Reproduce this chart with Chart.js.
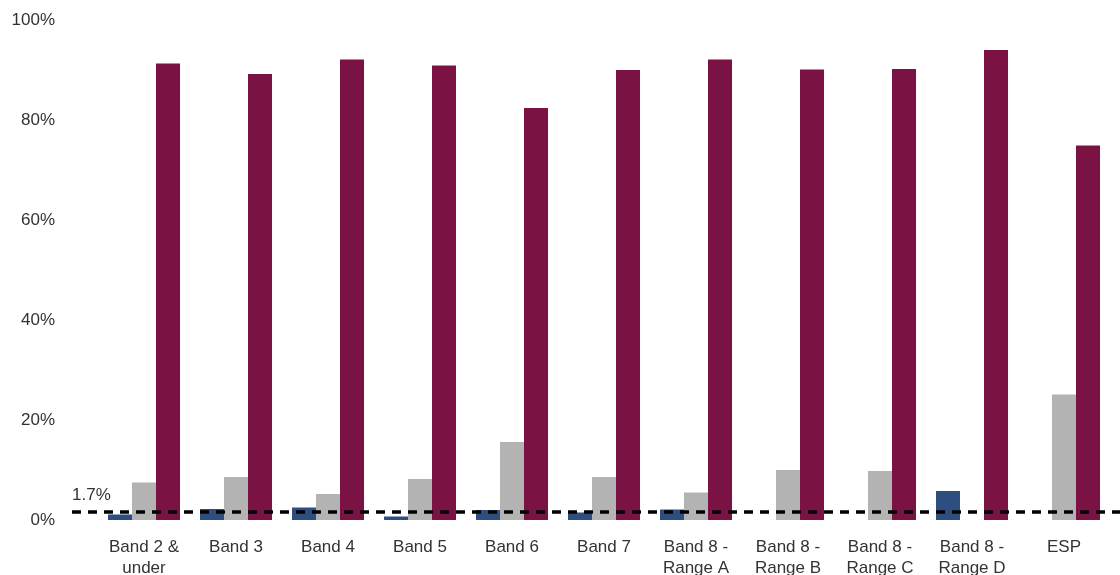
<!DOCTYPE html>
<html>
<head>
<meta charset="utf-8">
<script src="https://cdn.jsdelivr.net/npm/chart.js@4/dist/chart.umd.min.js"></script>
<style>
  html, body { margin: 0; padding: 0; background: #ffffff; }
  #wrap { width: 1120px; height: 575px; position: relative; }
</style>
</head>
<body>
<div id="wrap"><canvas id="chart" width="1120" height="575"></canvas></div>
<script>
// Pay bands along the horizontal axis
const categories = [
  ['Band 2 &', 'under'], 'Band 3', 'Band 4', 'Band 5', 'Band 6', 'Band 7',
  ['Band 8 -', 'Range A'], ['Band 8 -', 'Range B'], ['Band 8 -', 'Range C'],
  ['Band 8 -', 'Range D'], 'ESP'
];

// Percentages per band, three series
const seriesBlue   = [1.1, 2.2, 2.5, 0.7, 2.0, 1.5, 2.1, 0, 0, 5.8, 0];
const seriesGrey   = [7.5, 8.6, 5.2, 8.2, 15.6, 8.6, 5.5, 10.0, 9.8, 0, 25.1];
const seriesMaroon = [91.3, 89.2, 92.1, 90.9, 82.4, 90.0, 92.1, 90.1, 90.2, 94.0, 74.9];

// Reference level drawn as a dashed line
const referenceValue = 1.7;
const referenceLabel = '1.7%';

const yTicks = [0, 20, 40, 60, 80, 100];

const textColor = '#333333';
const fontFamily = '"Liberation Sans", Arial, sans-serif';
const fontSize = 17;

const referenceLine = {
  id: 'referenceLine',
  afterDatasetsDraw(chart) {
    const { ctx, scales: { y } } = chart;
    const yPix = Math.round(y.getPixelForValue(referenceValue));
    ctx.save();
    ctx.strokeStyle = '#000000';
    ctx.lineWidth = 3.5;
    ctx.setLineDash([9, 7]);
    ctx.beginPath();
    ctx.moveTo(72, yPix);
    ctx.lineTo(chart.width, yPix);
    ctx.stroke();
    ctx.setLineDash([]);
    ctx.fillStyle = textColor;
    ctx.font = fontSize + 'px ' + fontFamily;
    ctx.textAlign = 'left';
    ctx.textBaseline = 'alphabetic';
    ctx.fillText(referenceLabel, 72, yPix - 12);
    ctx.restore();
  }
};

new Chart(document.getElementById('chart'), {
  type: 'bar',
  data: {
    labels: categories,
    datasets: [
      { label: 'Blue', data: seriesBlue, backgroundColor: '#2F4E80' },
      { label: 'Grey', data: seriesGrey, backgroundColor: '#B3B3B3' },
      { label: 'Maroon', data: seriesMaroon, backgroundColor: '#7A1343' }
    ]
  },
  options: {
    responsive: false,
    animation: false,
    devicePixelRatio: 1,
    layout: { padding: { top: 0, right: 10, left: 0, bottom: 0 } },
    datasets: { bar: { categoryPercentage: 0.783, barPercentage: 1.0 } },
    plugins: {
      legend: { display: false },
      tooltip: { enabled: false }
    },
    scales: {
      x: {
        grid: { display: false, drawTicks: false },
        border: { display: false },
        ticks: {
          color: textColor,
          font: { family: fontFamily, size: fontSize, lineHeight: 1.24 },
          padding: 17,
          maxRotation: 0,
          autoSkip: false
        },
        afterFit(scale) { scale.height = 55; }
      },
      y: {
        min: 0,
        max: 100,
        grid: { display: false, drawTicks: false },
        border: { display: false },
        afterBuildTicks(scale) { scale.ticks = yTicks.map(v => ({ value: v })); },
        ticks: {
          color: textColor,
          font: { family: fontFamily, size: fontSize },
          padding: 43,
          callback: v => v + '%'
        },
        afterFit(scale) {
          scale.width = 98;
          scale.paddingTop = 20;
          scale.paddingBottom = 10;
        }
      }
    }
  },
  plugins: [referenceLine]
});
</script>
</body>
</html>
